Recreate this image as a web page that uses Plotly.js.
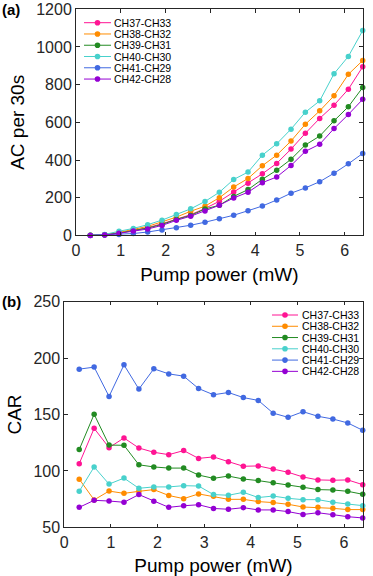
<!DOCTYPE html>
<html>
<head>
<meta charset="utf-8">
<script src="https://cdn.plot.ly/plotly-3.0.1.min.js"></script>
<style>
  html, body { margin: 0; padding: 0; background: #fff; }
  #plot { width: 373px; height: 576px; }
</style>
</head>
<body>
<div id="plot"></div>
<script>
// pump power (mW), same for every pair
let power = [0.32, 0.64, 0.96, 1.28, 1.6, 1.92, 2.24, 2.56, 2.88, 3.2,
             3.52, 3.84, 4.16, 4.48, 4.8, 5.12, 5.44, 5.76, 6.08, 6.4]

let names = ['CH37-CH33', 'CH38-CH32', 'CH39-CH31', 'CH40-CH30', 'CH41-CH29', 'CH42-CH28']
let colors = ['#FF1493', '#FF8C00', '#228B22', '#48D1CC', '#4169E1', '#9400D3']

// (a) accidental coincidences per 30 s
let acCH37 = [1, 4, 13, 27, 41, 62, 88, 110, 143, 181, 230, 277, 327, 382, 458, 542, 621, 691, 776, 895]
let acCH38 = [1, 4, 16, 31, 48, 72, 97, 128, 155, 200, 257, 302, 370, 426, 501, 590, 661, 741, 855, 928]
let acCH39 = [1, 4, 12, 26, 39, 58, 85, 106, 140, 160, 207, 243, 298, 346, 404, 480, 527, 608, 683, 785]
let acCH40 = [1, 5, 22, 37, 57, 81, 111, 141, 180, 229, 297, 336, 426, 486, 564, 654, 714, 858, 950, 1087]
let acCH41 = [0, 2, 5, 10, 18, 29, 40, 54, 70, 89, 107, 131, 156, 188, 224, 252, 285, 330, 380, 435]
let acCH42 = [0, 2, 11, 24, 34, 53, 80, 102, 130, 160, 199, 229, 280, 310, 371, 446, 484, 567, 642, 722]

// (b) CAR
let carCH37 = [106.4, 137.7, 120.6, 129.2, 120.3, 116.5, 114.4, 118, 111.1, 112.4, 108.2, 104.1, 104.4, 101.7, 98.8, 94.6, 92, 91.7, 92, 87.8]
let carCH38 = [92.7, 74.3, 82.1, 80.1, 81.9, 83.4, 78.2, 75.4, 79.6, 77.5, 74.8, 74.8, 72.8, 71.9, 70.4, 68, 67.7, 66.8, 65.7, 65.7]
let carCH39 = [118.9, 150.2, 122.9, 122.7, 105.4, 103.5, 102.5, 102.5, 96.3, 93.4, 95.4, 92.8, 91.4, 89.6, 87.5, 85.5, 83.4, 83.1, 81.9, 79.3]
let carCH40 = [81.9, 103.5, 88.3, 93.6, 84.6, 85.8, 85.8, 86.9, 86.6, 79, 78.4, 81, 76.4, 77.7, 75.7, 74.5, 74.5, 72.2, 70.6, 69.2]
let carCH41 = [190.2, 192, 166, 194, 172.5, 190.5, 186, 184, 173, 167.5, 169.5, 165, 162.5, 151.2, 147.5, 152.5, 148.4, 146, 142.5, 136]
let carCH42 = [67.7, 73.9, 73.3, 72.2, 79, 73.1, 67.7, 69.1, 70, 66.7, 66, 67.4, 65.4, 65.4, 63.9, 61.4, 62.9, 61.2, 59.4, 58.3]

let acData = [acCH37, acCH38, acCH39, acCH40, acCH41, acCH42]
let carData = [carCH37, carCH38, carCH39, carCH40, carCH41, carCH42]

const W = 373, H = 576
let px = v => v / W
let py = v => 1 - v / H

let traces = []
for (let i = 0; i < names.length; i++) {
    traces.push({
        x: power, y: acData[i], name: names[i],
        type: 'scatter', mode: 'lines+markers',
        line: {color: colors[i], width: 1},
        marker: {color: colors[i], size: 5.5},
        cliponaxis: false, showlegend: false,
        xaxis: 'x', yaxis: 'y'
    })
    traces.push({
        x: power, y: carData[i], name: names[i],
        type: 'scatter', mode: 'lines+markers',
        line: {color: colors[i], width: 1},
        marker: {color: colors[i], size: 5.5},
        cliponaxis: false, showlegend: false,
        xaxis: 'x2', yaxis: 'y2'
    })
}

let axisColor = '#262626'
let tickFont = {family: 'Liberation Sans, Arial, sans-serif', size: 16, color: axisColor}
let titleFont = {family: 'Liberation Sans, Arial, sans-serif', size: 19, color: '#000'}

function baseAxis() {
    return {
        showline: true, linecolor: axisColor, linewidth: 1, mirror: 'ticks',
        ticks: 'inside', ticklen: 3.5, tickwidth: 1, tickcolor: axisColor,
        showgrid: false, zeroline: false, tickfont: tickFont, fixedrange: true
    }
}

let xa = Object.assign(baseAxis(), {
    domain: [px(76), px(362.7)], anchor: 'y', range: [0, 6.4], dtick: 1, tick0: 0,
    title: {text: 'Pump power (mW)', font: titleFont, standoff: 10}
})
let ya = Object.assign(baseAxis(), {
    domain: [py(235.4), py(9.3)], anchor: 'x', range: [0, 1200], dtick: 200, tick0: 0,
    title: {text: 'AC per 30s', font: titleFont, standoff: 6}
})
let xb = Object.assign(baseAxis(), {
    domain: [px(64.3), px(362.7)], anchor: 'y2', range: [0, 6.4], dtick: 1, tick0: 0,
    title: {text: 'Pump power (mW)', font: titleFont, standoff: 10}
})
let yb = Object.assign(baseAxis(), {
    domain: [py(527.3), py(301.7)], anchor: 'x2', range: [50, 250], dtick: 50, tick0: 0,
    title: {text: 'CAR', font: titleFont, standoff: 6}
})

// hand-built legends (tight row spacing)
let shapes = []
let annotations = []
function addLegend(x0, x1, xText, yTop, step) {
    for (let i = 0; i < names.length; i++) {
        let y = py(yTop + i * step)
        let xm = (x0 + x1) / 2
        shapes.push({type: 'line', xref: 'paper', yref: 'paper',
            x0: px(x0), x1: px(x1), y0: y, y1: y,
            line: {color: colors[i], width: 1}})
        shapes.push({type: 'circle', xref: 'paper', yref: 'paper',
            xsizemode: 'pixel', ysizemode: 'pixel', xanchor: px(xm), yanchor: y,
            x0: -2.8, x1: 2.8, y0: -2.8, y1: 2.8,
            fillcolor: colors[i], line: {width: 0}})
        annotations.push({xref: 'paper', yref: 'paper', x: px(xText), y: y,
            xanchor: 'left', yanchor: 'middle', showarrow: false, text: names[i],
            font: {family: 'Liberation Sans, Arial, sans-serif', size: 10.5, color: '#000'}})
    }
}
addLegend(84, 111, 112, 22.7, 11.27)
addLegend(272, 298, 299.5, 315, 11.27)

let panelFont = {family: 'Liberation Sans, Arial, sans-serif', size: 15, color: '#000', weight: 'bold'}
annotations.push({xref: 'paper', yref: 'paper', x: 0, y: py(9), xanchor: 'left', yanchor: 'middle',
    showarrow: false, text: '<b>(a)</b>', font: panelFont})
annotations.push({xref: 'paper', yref: 'paper', x: 0, y: py(301), xanchor: 'left', yanchor: 'middle',
    showarrow: false, text: '<b>(b)</b>', font: panelFont})

let layout = {
    width: W, height: H,
    margin: {l: 0, r: 0, t: 0, b: 0},
    paper_bgcolor: '#fff', plot_bgcolor: '#fff',
    showlegend: false,
    xaxis: xa, yaxis: ya, xaxis2: xb, yaxis2: yb,
    shapes: shapes, annotations: annotations
}

Plotly.newPlot('plot', traces, layout, {displayModeBar: false, staticPlot: true})
</script>
</body>
</html>
